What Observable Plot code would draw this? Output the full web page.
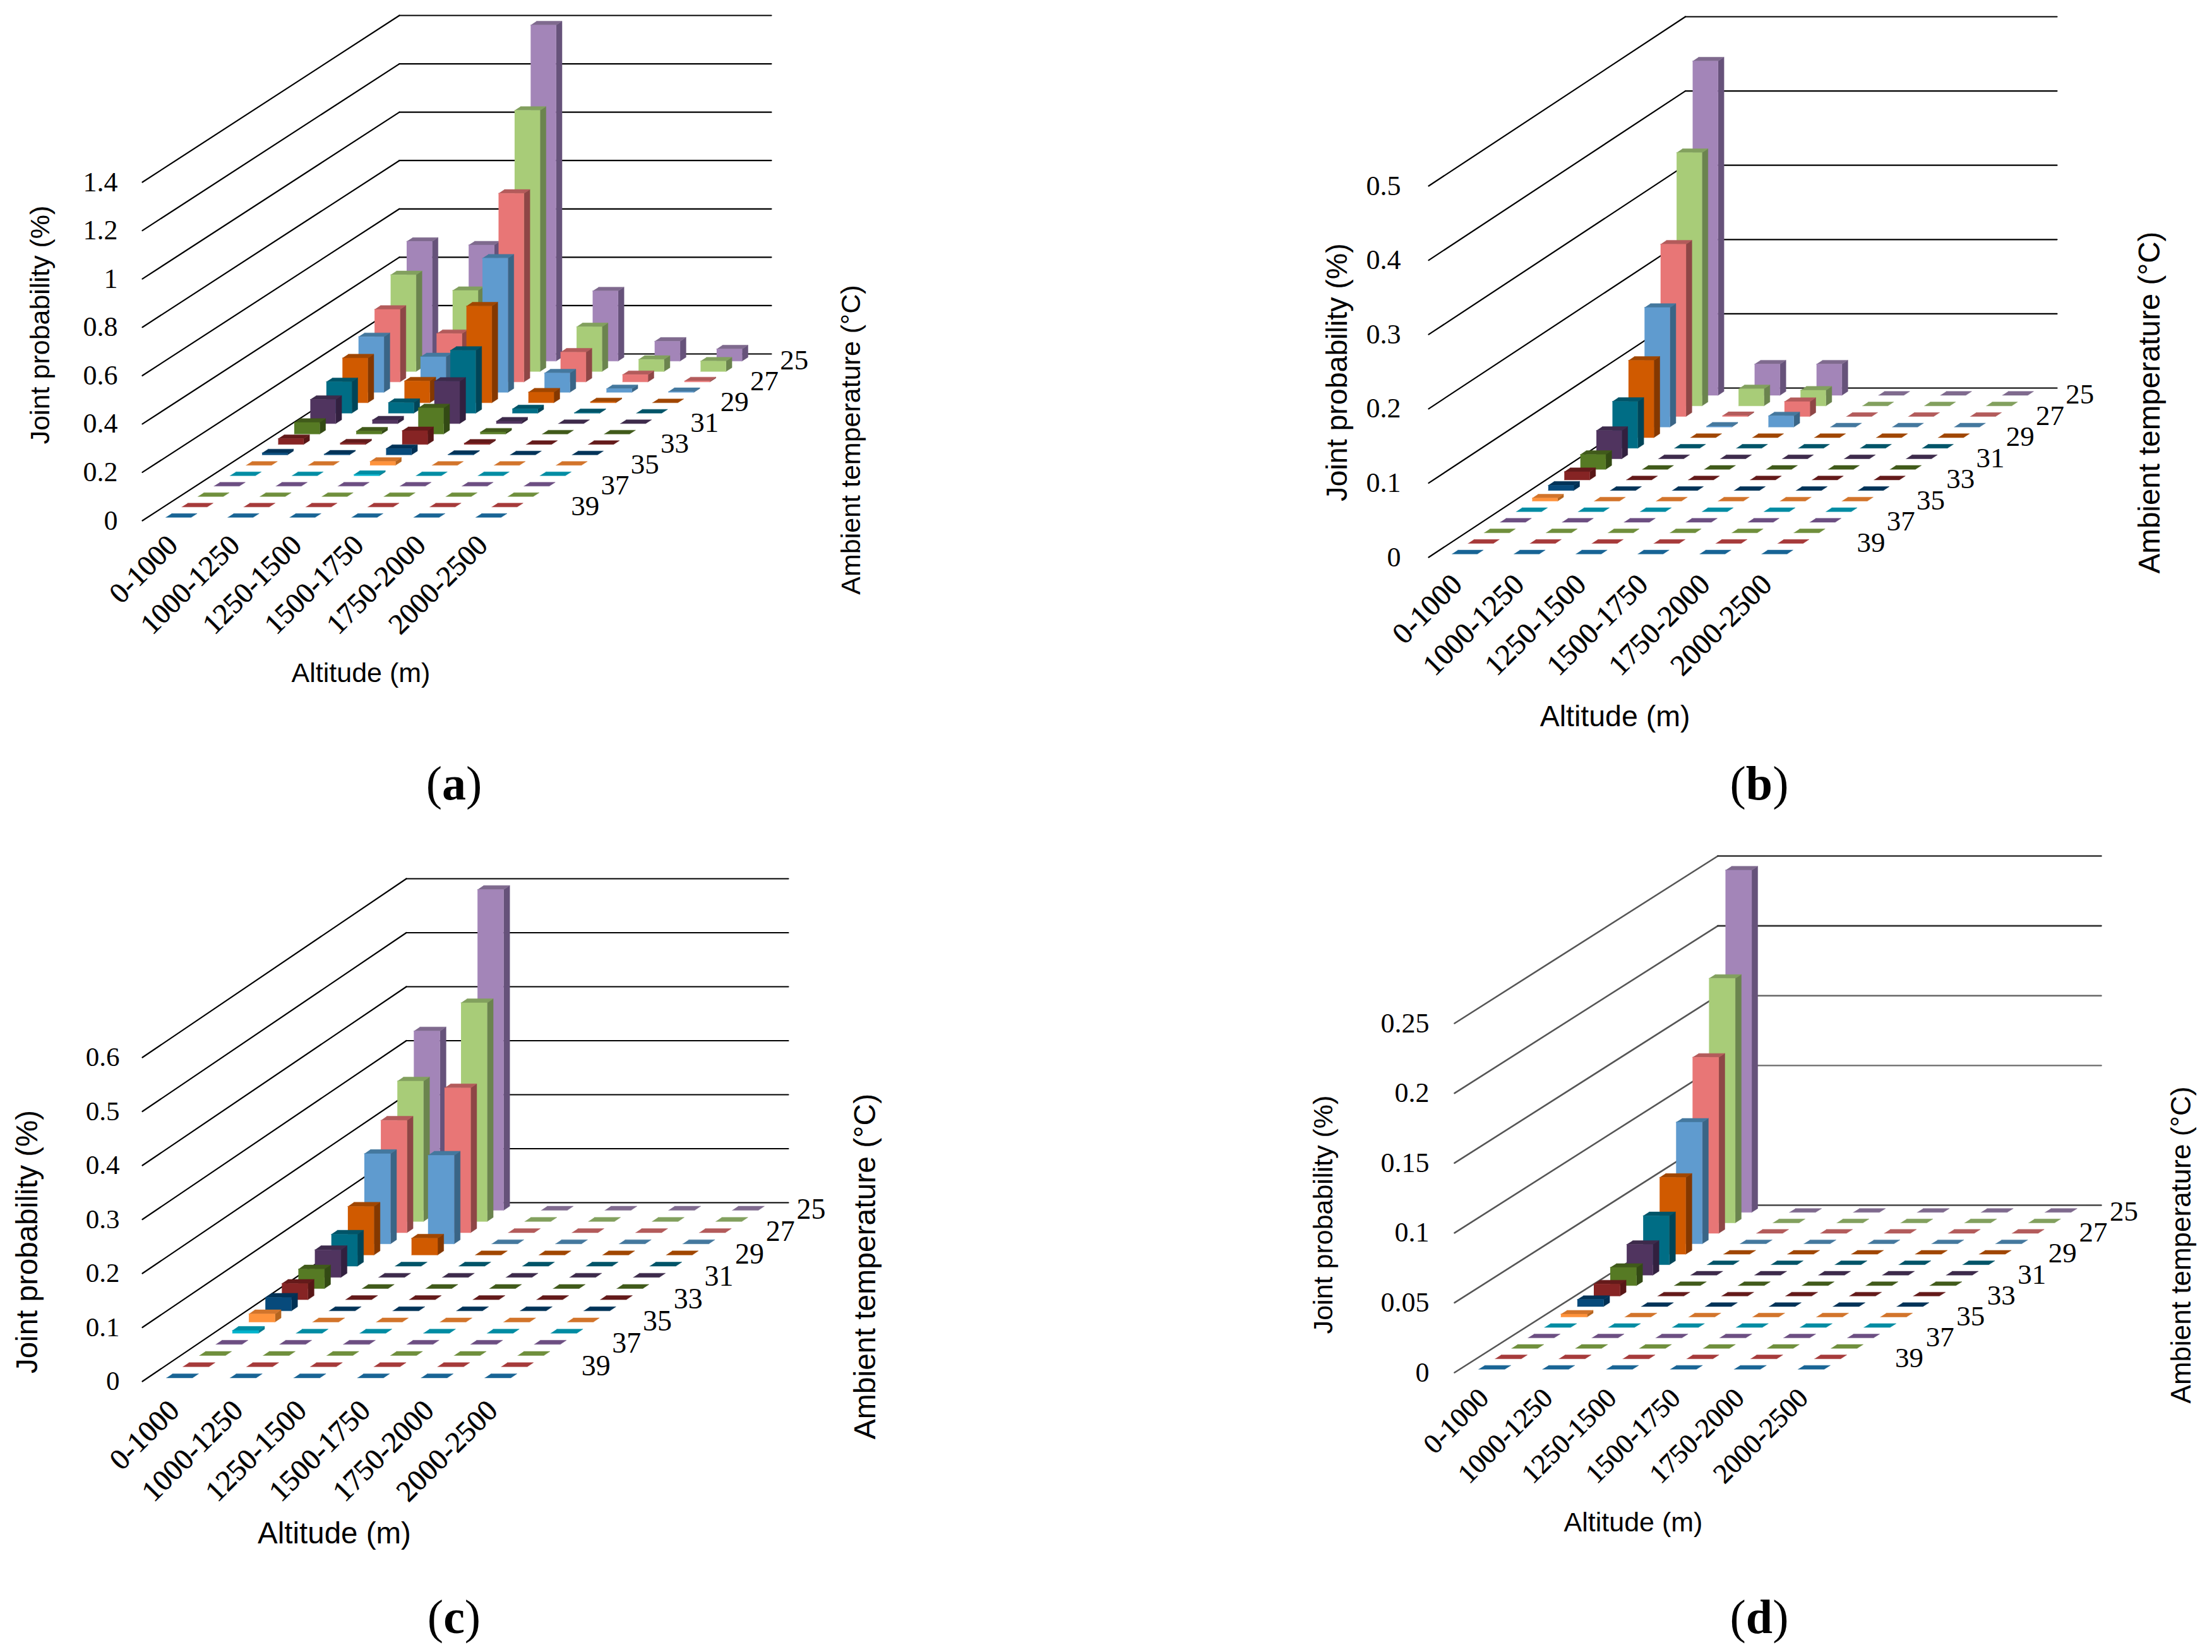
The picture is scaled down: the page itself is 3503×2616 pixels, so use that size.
<!DOCTYPE html>
<html>
<head>
<meta charset="utf-8">
<script src="https://cdn.jsdelivr.net/npm/d3@7"></script>
<script src="https://cdn.jsdelivr.net/npm/@observablehq/plot@0.6"></script>
<style>
html,body{margin:0;padding:0;background:#fff}
#page{position:relative;width:3503px;height:2616px;overflow:hidden;background:#fff}
#page svg{position:absolute;background:#fff;overflow:visible}
.cap{position:absolute;transform:translate(-50%,-50%);font-family:"Liberation Serif",serif;font-size:76px;line-height:1;color:#000}
</style>
</head>
<body>
<div id="page"></div>
<script>
// ---- categories and tick labels ----
const altitudes = ["0-1000","1000-1250","1250-1500","1500-1750","1750-2000","2000-2500"];
// series run from back to front of the chart
const temperatures = [25,26,27,28,29,30,31,32,33,34,35,36,37,38,39,40];
const labelledTemps = [25,27,29,31,33,35,37,39];
const ticksA = [0,0.2,0.4,0.6,0.8,1,1.2,1.4];
const ticksB = [0,0.1,0.2,0.3,0.4,0.5];
const ticksC = [0,0.1,0.2,0.3,0.4,0.5,0.6];
const ticksD = [0,0.05,0.1,0.15,0.2,0.25];

// ---- joint probability, one row per altitude, one value per temperature (25..40) ----
const valuesA = [
  [0.495,0.40,0.30,0.23,0.185,0.13,0.10,0.048,0.024,0.008,0,0,0,0,0,0],
  [0.48,0.335,0.20,0.147,0.09,0.044,0.015,0.012,0.006,0.003,0,0,0,0,0,0],
  [1.39,1.08,0.78,0.555,0.40,0.26,0.175,0.108,0.057,0.026,0.016,0.005,0,0,0,0],
  [0.29,0.185,0.123,0.08,0.044,0.018,0.01,0.008,0.005,0.002,0,0,0,0,0,0],
  [0.082,0.05,0.03,0.015,0.004,0.002,0,0,0,0,0,0,0,0,0,0],
  [0.05,0.043,0.004,0.003,0,0,0,0,0,0,0,0,0,0,0,0]
];
const valuesB = [
  [0.45,0.341,0.232,0.161,0.104,0.063,0.038,0.02,0.011,0.007,0.004,0,0,0,0,0],
  [0.042,0.023,0.001,0.001,0,0,0,0,0,0,0,0,0,0,0,0],
  [0.042,0.021,0.02,0.015,0,0,0,0,0,0,0,0,0,0,0,0],
  [0,0,0,0,0,0,0,0,0,0,0,0,0,0,0,0],
  [0,0,0,0,0,0,0,0,0,0,0,0,0,0,0,0],
  [0,0,0,0,0,0,0,0,0,0,0,0,0,0,0,0]
];
const valuesC = [
  [0.332,0.26,0.208,0.167,0.09,0.059,0.051,0.036,0.03,0.025,0.015,0.005,0,0,0,0],
  [0.594,0.405,0.268,0.164,0.031,0,0,0,0,0,0,0,0,0,0,0],
  [0,0,0,0,0,0,0,0,0,0,0,0,0,0,0,0],
  [0,0,0,0,0,0,0,0,0,0,0,0,0,0,0,0],
  [0,0,0,0,0,0,0,0,0,0,0,0,0,0,0,0],
  [0,0,0,0,0,0,0,0,0,0,0,0,0,0,0,0]
];
const valuesD = [
  [0.245,0.175,0.126,0.087,0.055,0.035,0.022,0.013,0.0086,0.005,0.002,0,0,0,0,0],
  [0,0,0,0,0,0,0,0,0,0,0,0,0,0,0,0],
  [0,0,0,0,0,0,0,0,0,0,0,0,0,0,0,0],
  [0,0,0,0,0,0,0,0,0,0,0,0,0,0,0,0],
  [0,0,0,0,0,0,0,0,0,0,0,0,0,0,0,0],
  [0,0,0,0,0,0,0,0,0,0,0,0,0,0,0,0]
];

// ---- series colours, same order as temperatures ----
const frontColors = ["#A385B8","#A8CC78","#E87676","#5F9BCF","#D05A00","#006D85","#50345F","#567A24","#862424","#074A7B","#FF933C","#00B3CC","#80609A","#84A847","#C04444","#1C77AE"];
const topColors   = ["#7F6A8E","#82A05E","#B35B5B","#44789E","#A04600","#005468","#3D2A4B","#405A1A","#641A1A","#003358","#D2742B","#008CA3","#6C4E82","#6F8F3C","#A63A3A","#186495"];
const sideColors  = ["#66527A","#6B844E","#8E4646","#3A6586","#843800","#004558","#32203F","#334A14","#581616","#003054","#B5651F","#007A8E","#4F3A60","#5A7530","#862E2E","#124E75"];

// ---- layout of the four charts, in page pixels ----
const panels = [
  {id:"a",values:valuesA,ticks:ticksA,left:0,top:0,frontX:225,frontY:824,backX:632,backY:560,rightX:1221,maxPx:536,
   tickDx:-39,tickSize:44,catSize:46,catDx:-1,catDy:31,tempSize:45,titleSize:43,zSize:43,
   yT:[64,514],zT:[1348,696],xT:[571,1066],cap:[719,1240],left_stroke:"#000",back_stroke:()=>"#000",sw:2.2},
  {id:"b",values:valuesB,ticks:ticksB,left:1752,top:0,frontX:2262,frontY:882,backX:2668.5,backY:614,rightX:3257,maxPx:588,
   tickDx:-44,tickSize:44,catSize:47,catDx:-4,catDy:35,tempSize:45,titleSize:46.5,zSize:47.5,
   yT:[2118,589],zT:[3404,637],xT:[2557,1135],cap:[2786,1240],left_stroke:"#000",back_stroke:()=>"#000",sw:2.2},
  {id:"c",values:valuesC,ticks:ticksC,left:0,top:1308,frontX:225,frontY:2187,backX:643,backY:1904,rightX:1248,maxPx:513,
   tickDx:-36,tickSize:43,catSize:47,catDx:0,catDy:38,tempSize:46,titleSize:47.5,zSize:48,
   yT:[43,1966],zT:[1370,2005],xT:[529,2428],cap:[719,2560],left_stroke:"#000",back_stroke:()=>"#000",sw:2.2},
  {id:"d",values:valuesD,ticks:ticksD,left:1752,top:1308,frontX:2303,frontY:2173,backX:2720,backY:1908,rightX:3327,maxPx:553,
   tickDx:-40,tickSize:44,catSize:44,catDx:-4,catDy:33,tempSize:45,titleSize:43,zSize:44,
   yT:[2096,1923],zT:[3454,1971],xT:[2586,2411],cap:[2786,2560],left_stroke:"#555",
   back_stroke:v=>(v>=0.2?"#333":v>=0.15?"#666":v>=0.1?"#777":v>=0.05?"#fff":"#444"),sw:2.6}
];
const panelW = 1751, panelH = 1308;
const sansFont = '"Liberation Sans",Arial,sans-serif';
const serifFont = '"Liberation Serif","Times New Roman",serif';
const rowCount = temperatures.length, colCount = altitudes.length;
const barWidth = 0.41, barDepth = 0.37;

function draw(p){
  const colW = (p.rightX - p.backX) / colCount;
  const maxV = p.ticks[p.ticks.length-1];
  const unit = p.maxPx / maxV;
  const sx = (p.backX - p.frontX) / rowCount / colW;
  const sy = (p.frontY - p.backY) / rowCount / unit;
  const X = (c,r) => c + r*sx;
  const Y = (r,v) => v + r*sy;

  // bar faces, painted back row first
  const faces = [];
  const face = (id,fill,pts) => pts.forEach(([c,r,v]) => faces.push({id,fill,x:X(c,r),y:Y(r,v)}));
  temperatures.forEach((t,i) => {
    const r = rowCount-1-i;
    altitudes.forEach((_,c) => {
      const v = p.values[c][i];
      const xL=c+.5-barWidth/2, xR=c+.5+barWidth/2, rF=r+.5-barDepth/2, rB=r+.5+barDepth/2;
      const key = `${t}-${c}`;
      if (v>0) face(key+"s",sideColors[i],[[xR,rF,0],[xR,rB,0],[xR,rB,v],[xR,rF,v]]);
      face(key+"t",topColors[i],[[xL,rF,v],[xR,rF,v],[xR,rB,v],[xL,rB,v]]);
      if (v>0) face(key+"f",frontColors[i],[[xL,rF,0],[xR,rF,0],[xR,rF,v],[xL,rF,v]]);
    });
  });

  // walls
  const wallLeft = p.ticks.flatMap(v => [{v,x:X(0,0),y:Y(0,v)},{v,x:X(0,rowCount),y:Y(rowCount,v)}]);
  const wallBack = p.ticks.flatMap(v => [{v,x:X(0,rowCount),y:Y(rowCount,v)},{v,x:X(colCount,rowCount),y:Y(rowCount,v)}]);

  const temps = labelledTemps.map(t => {
    const i = temperatures.indexOf(t), r = rowCount-1-i+.5;
    const off = (74 - (r-1.5)/14*25) / colW;
    return {t:String(t),x:X(colCount,r)+off,y:Y(r,0)};
  });
  const cats = altitudes.map((a,c) => ({a,x:X(c+.5,0),y:Y(0,0)}));

  const ox = p.left, oy = p.top;
  const title = (text,pos,size,rotate) => Plot.text([text],{frameAnchor:"top-left",textAnchor:"middle",lineAnchor:"middle",dx:pos[0]-ox,dy:pos[1]-oy,rotate,fontFamily:sansFont,fontSize:size,fill:"#000"});
  const chart = Plot.plot({
    width: panelW, height: panelH,
    marginLeft:0, marginRight:0, marginTop:0, marginBottom:0,
    style:{background:"transparent"},
    x:{type:"linear",axis:null,domain:[0,colCount],range:[p.frontX-ox,p.frontX-ox+colCount*colW]},
    y:{type:"linear",axis:null,domain:[0,maxV],range:[p.frontY-oy,p.frontY-oy-p.maxPx]},
    color:{type:"identity"},
    marks:[
      Plot.line(wallLeft,{x:"x",y:"y",z:"v",stroke:p.left_stroke,strokeWidth:p.sw}),
      Plot.line(wallBack,{x:"x",y:"y",z:"v",stroke:d=>p.back_stroke(d.v),strokeWidth:p.sw}),
      Plot.line(faces,{x:"x",y:"y",z:"id",fill:d=>d.fill,stroke:d=>d.fill,strokeWidth:0.5}),
      Plot.text(p.ticks,{x:()=>X(0,0),y:d=>d,text:d=>String(d),textAnchor:"end",dx:p.tickDx,fontFamily:serifFont,fontSize:p.tickSize,fill:"#000"}),
      Plot.text(cats,{x:"x",y:"y",text:"a",rotate:-45,textAnchor:"end",dx:p.catDx,dy:p.catDy,fontFamily:serifFont,fontSize:p.catSize,fill:"#000",stroke:"#000",strokeWidth:0.5}),
      Plot.text(temps,{x:"x",y:"y",text:"t",dy:2,fontFamily:serifFont,fontSize:p.tempSize,fill:"#000"}),
      title("Joint probability (%)",p.yT,p.titleSize,-90),
      title("Ambient temperature (°C)",p.zT,p.zSize,-90),
      title("Altitude (m)",p.xT,p.titleSize,0)
    ]
  });
  chart.style.left = ox+"px";
  chart.style.top = oy+"px";
  document.getElementById("page").appendChild(chart);

  const cap = document.createElement("div");
  cap.className = "cap";
  cap.style.left = p.cap[0]+"px";
  cap.style.top = p.cap[1]+"px";
  cap.innerHTML = `(<b>${p.id}</b>)`;
  document.getElementById("page").appendChild(cap);
}
panels.forEach(draw);
</script>
</body>
</html>
